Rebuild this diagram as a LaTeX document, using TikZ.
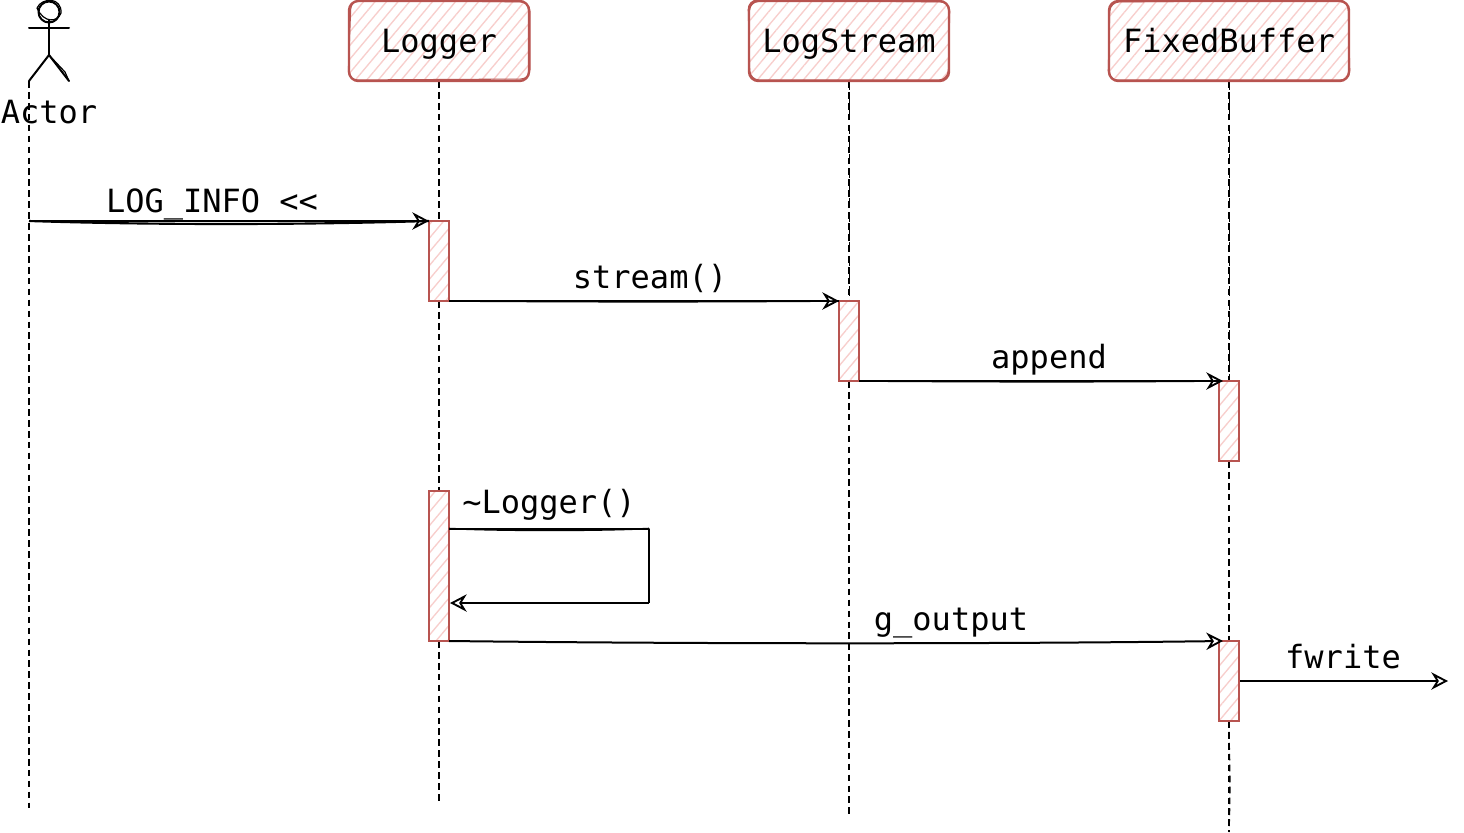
\documentclass[tikz,border=0pt]{standalone}
\usepackage{fontspec}
\setmonofont{DejaVu Sans Mono}
\usetikzlibrary{arrows.meta,patterns.meta,backgrounds,calc}
\definecolor{boxline}{HTML}{B85450}
\definecolor{boxhatch}{HTML}{F8CECC}
\tikzset{
  x=.75pt,y=-.75pt,
  hatched/.style={draw=boxline,outer sep=0pt,inner sep=0pt,
    preaction={fill=white},
    pattern={Lines[angle=50,distance=6.6pt,line width=1pt]},pattern color=boxhatch},
  participant/.style={hatched,rounded corners=7pt,line width=1.8pt,minimum height=60pt,
    font=\ttfamily\fontsize{24pt}{24pt}\selectfont,text height=21.5pt,text depth=5pt},
  activation/.style={hatched,line width=1.5pt,minimum width=15pt},
  lifeline/.style={draw=black,line width=1.5pt,dash pattern=on 5pt off 3.2pt},
  message/.style={draw=black,line width=1.5pt,-{Stealth[open,length=12.5pt,width=13pt,inset=4pt,line width=1.4pt]}},
  sketch/.style={draw=black,line width=1.2pt},
  lab/.style={anchor=base,inner sep=0pt,font=\ttfamily\fontsize{24pt}{24pt}\selectfont},
  figure/.style={draw=black,line width=1.5pt,line cap=round,line join=round},
}
\begin{document}
\begin{tikzpicture}
\useasboundingbox (0,0) rectangle (1464,832);
% participants
\node[participant,minimum width=135pt] (logger) at (439,41) {Logger};
\node[participant,minimum width=150pt] (stream) at (849,41) {LogStream};
\node[participant,minimum width=180pt] (buffer) at (1229,41) {FixedBuffer};
% extra hand-drawn strokes on boxes
\draw[draw=boxline,line width=.8pt,rounded corners=7pt] ($(logger.south west)+(-1,-1)$) -- ($(logger.north west)+(2,-1)$) -- ($(logger.north east)+(1,1)$) -- ($(logger.south east)+(1,-2)$) -- cycle;
\draw[draw=boxline,line width=.8pt,rounded corners=7pt] ($(stream.south west)+(1,-1)$) -- ($(stream.north west)+(-1,-1)$) -- ($(stream.north east)+(1,1)$) -- ($(stream.south east)+(-1,-1)$) -- cycle;
\draw[draw=boxline,line width=.8pt,rounded corners=7pt] ($(buffer.south west)+(-1,-1)$) -- ($(buffer.north west)+(1,1)$) -- ($(buffer.north east)+(-1,-1)$) -- ($(buffer.south east)+(1,-1)$) -- cycle;
% activations
\node[activation,minimum height=60pt] (a1) at (439,261) {};
\node[activation,minimum height=60pt] (a2) at (849,341) {};
\node[activation,minimum height=60pt] (a3) at (1229,421) {};
\node[activation,minimum height=112.5pt] (a4) at (439,566) {};
\node[activation,minimum height=60pt] (a5) at (1229,681) {};
% actor
\draw[figure] (49,12) circle[radius=10.5];
\draw[figure,line width=.9pt] (37,8) .. controls (42,-3) and (62,-3) .. (61,13) .. controls (58,22) and (44,24) .. (37,8);
\draw[figure] (29,28) -- (69,28);
\draw[figure] (49,20) -- (49,55);
\coordinate (actorfoot) at (29,81);
\draw[figure] (49,55) -- (actorfoot);
\draw[figure] (49,55) -- (69,81);
\draw[figure,line width=.9pt] (49,55) -- (65,72) -- (69,81);
\node[lab] (actorlabel) at (49,123) {Actor};
% free ends
\coordinate (endA) at (29,808);
\coordinate (endL) at (439,803);
\coordinate (endS) at (849,815);
\coordinate (endB) at (1229,832);
\coordinate (actorcall) at (29,221);
\coordinate (fwend) at (1448,681);
\coordinate (selfout) at (449,528.5);
\coordinate (selfbend) at (649,528.5);
\coordinate (selfturn) at (649,603);
\coordinate (selfback) at (450,603);
\coordinate (outstart) at (449,641);
% lifelines
\begin{pgfonlayer}{background}
\draw[lifeline] (actorfoot) -- (endA);
\draw[lifeline] (logger.south) -- (a1.north);
\draw[lifeline] (a1.south) -- (a4.north);
\draw[lifeline] (a4.south) -- (endL);
\draw[lifeline] (stream.south) -- (a2.north);
\draw[lifeline,line width=.8pt,dash pattern=on 7pt off 4pt] ([xshift=.6pt]stream.south) -- ([xshift=.6pt]a2.north);
\draw[lifeline] (a2.south) -- (endS);
\draw[lifeline] (buffer.south) -- (a3.north);
\draw[lifeline,line width=.8pt,dash pattern=on 7pt off 4pt] ([xshift=.7pt]buffer.south) -- ([xshift=.7pt]a3.north);
\draw[lifeline] (a3.south) -- (a5.north);
\draw[lifeline] (a5.south) -- (endB);
\draw[lifeline,line width=1pt] (a5.south) .. controls (1229,760) and (1231,770) .. (endB);
\end{pgfonlayer}
% messages
\draw[message] (actorcall) -- (a1.north west);
\draw[sketch,line width=1.6pt] (actorcall) .. controls (150,225) and (300,225) .. (a1.north west);
\node[lab] (m1) at (212,212) {LOG\_INFO <<};
\draw[message] (a1.south east) -- (a2.north west);
\draw[sketch] (a1.south east) .. controls (600,302) and (700,302) .. (a2.north west);
\node[lab] (m2) at (650,288) {stream()};
\draw[message] (a2.south east) -- ([xshift=3pt]a3.north west);
\draw[sketch] (a2.south east) .. controls (1000,382) and (1100,382) .. (a3.north west);
\node[lab] (m3) at (1049,368) {append};
\draw[sketch,line width=1.5pt,line join=round] (selfout) -- (selfbend) -- (selfturn);
\draw[sketch] (selfout) .. controls (500,531) and (600,531) .. (selfbend);
\draw[message] (selfturn) -- (selfback);
\node[lab] (m4) at (549,513) {\textasciitilde Logger()};
\draw[message] (outstart) .. controls (700,644) and (1000,644) .. ([xshift=3pt]a5.north west);
\node[lab] (m5) at (951,630) {g\_output};
\draw[message] ($(a5.east)+(1,0)$) -- (fwend);
\node[lab] (m6) at (1343,668) {fwrite};
\end{tikzpicture}
\end{document}
